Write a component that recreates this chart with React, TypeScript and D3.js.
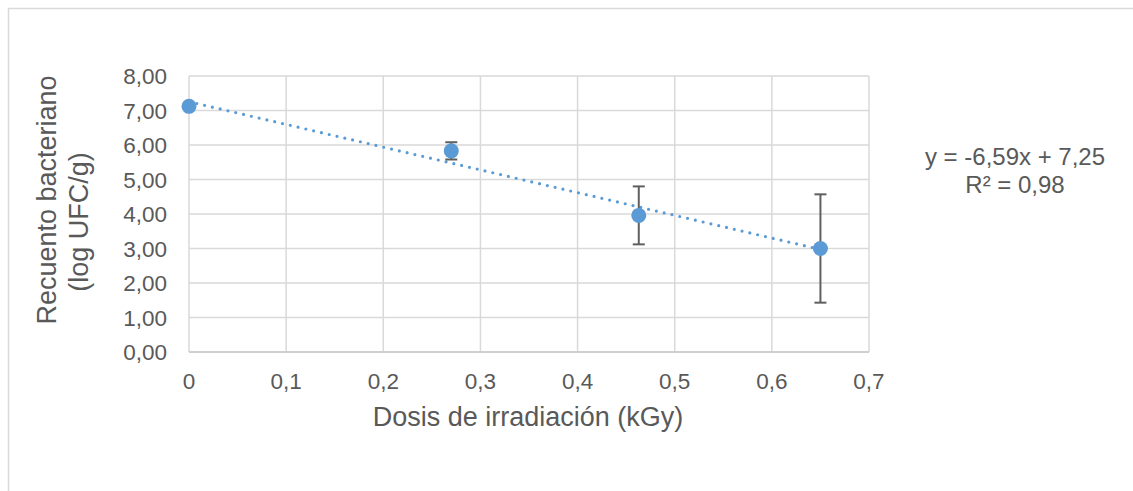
import React from 'react';
import * as d3 from 'd3';

// dosis (kGy) y recuento (log UFC/g) con su desviacion
const doses = [0, 0.27, 0.463, 0.65];
const counts = [7.12, 5.83, 3.96, 3.0];
const errors = [0, 0.25, 0.84, 1.57];

const xTicks = [0, 0.1, 0.2, 0.3, 0.4, 0.5, 0.6, 0.7];
const yTicks = [0, 1, 2, 3, 4, 5, 6, 7, 8];

const trendLines = ['y = -6,59x + 7,25', 'R² = 0,98'];

const xTitle = 'Dosis de irradiación (kGy)';
const yTitle = ['Recuento bacteriano', '(log UFC/g)'];

const W = 1133, H = 491;
const plot = {left: 189, right: 869, top: 76, bottom: 352};

const grid = '#d9d9d9';
const txt = '#595959';
const blue = '#5b9bd5';
const font = 'Arial, "Liberation Sans", sans-serif';

const fmtY = (v: number) => d3.format('.2f')(v).replace('.', ',');
const fmtX = (v: number) => (v === 0 ? '0' : d3.format('.1f')(v).replace('.', ','));

export default function App() {
  const x = d3.scaleLinear().domain([0, 0.7]).range([plot.left, plot.right]);
  const y = d3.scaleLinear().domain([0, 8]).range([plot.bottom, plot.top]);

  // least squares trend, like excel's linear trendline
  const pts = doses.map((d, i) => ({x: d, y: counts[i], e: errors[i]}));
  const mx = d3.mean(doses) as number;
  const my = d3.mean(counts) as number;
  const sxy = d3.sum(pts, p => (p.x - mx) * (p.y - my));
  const sxx = d3.sum(pts, p => (p.x - mx) * (p.x - mx));
  const slope = sxy / sxx;
  const icpt = my - slope * mx;
  const ext = d3.extent(doses) as [number, number];
  const trend = d3.line<number>().x(d => x(d)).y(d => y(icpt + slope * d))(ext);

  return (
    <svg width={W} height={H} style={{position: 'absolute', left: 0, top: 0, display: 'block'}}
      fontFamily={font}>
      <rect x={0} y={0} width={W} height={H} fill="#fff" />
      <rect x={8.5} y={8.5} width={W + 20} height={H + 20} fill="none" stroke={grid} strokeWidth={1.5} />

      {yTicks.map(t => (
        <line key={'h' + t} x1={plot.left} x2={plot.right} y1={y(t)} y2={y(t)} stroke={grid} strokeWidth={1.5} />
      ))}
      {xTicks.map(t => (
        <line key={'v' + t} x1={x(t)} x2={x(t)} y1={plot.top} y2={plot.bottom} stroke={grid} strokeWidth={1.5} />
      ))}
      <line x1={plot.left} x2={plot.right} y1={y(0)} y2={y(0)} stroke="#c8c8c8" strokeWidth={1.5} />

      {yTicks.map(t => (
        <text key={'yl' + t} x={167} y={y(t)} dy="0.36em" textAnchor="end" fontSize={22.5} fill={txt}>
          {fmtY(t)}
        </text>
      ))}
      {xTicks.map(t => (
        <text key={'xl' + t} x={x(t)} y={389} textAnchor="middle" fontSize={22.5} fill={txt}>
          {fmtX(t)}
        </text>
      ))}

      <path d={trend || ''} fill="none" stroke={blue} strokeWidth={3.2} strokeLinecap="round" strokeDasharray="0 8" />

      {pts.filter(p => p.e > 0).map((p, i) => (
        <g key={'e' + i} stroke="#5f5f5f" strokeWidth={2}>
          <line x1={x(p.x)} x2={x(p.x)} y1={y(p.y - p.e)} y2={y(p.y + p.e)} />
          <line x1={x(p.x) - 6} x2={x(p.x) + 6} y1={y(p.y + p.e)} y2={y(p.y + p.e)} />
          <line x1={x(p.x) - 6} x2={x(p.x) + 6} y1={y(p.y - p.e)} y2={y(p.y - p.e)} />
        </g>
      ))}
      {pts.map((p, i) => (
        <circle key={'c' + i} cx={x(p.x)} cy={y(p.y)} r={7.5} fill={blue} />
      ))}

      <text x={528} y={426} textAnchor="middle" fontSize={27} fill={txt}>{xTitle}</text>
      <text transform={`translate(56,200) rotate(-90)`} textAnchor="middle" fontSize={27} fill={txt}>{yTitle[0]}</text>
      <text transform={`translate(88,222) rotate(-90)`} textAnchor="middle" fontSize={27} fill={txt}>{yTitle[1]}</text>

      {trendLines.map((s, i) => (
        <text key={'t' + i} x={1015} y={165 + i * 28} textAnchor="middle" fontSize={24} fill={txt}>{s}</text>
      ))}
    </svg>
  );
}
